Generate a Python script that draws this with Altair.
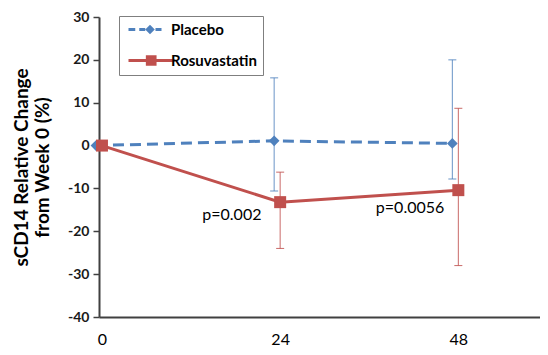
import altair as alt
import pandas as pd

# ---- data ----
weeks = [0, 24, 48]
placebo_mean = [0.0, 1.1, 0.5]
placebo_low = [None, -10.6, -7.8]
placebo_high = [None, 15.8, 20.0]
rosu_mean = [0.0, -13.2, -10.4]
rosu_low = [None, -24.0, -28.0]
rosu_high = [None, -6.2, 8.7]
series_names = ["Placebo", "Rosuvastatin"]
series_colors = ["#4F81BD", "#C0504D"]
p_labels = ["p=0.002", "p=0.0056"]
p_x = [17.5, 41.5]
p_y = [-16.2, -14.6]
x_ticks = [0, 24, 48]
y_ticks = [-40, -30, -20, -10, 0, 10, 20, 30]

FONT = "Lato"
AXIS_COLOR = "#404040"

xscale = alt.Scale(domain=[-0.4, 59], nice=False, zero=False)
yscale = alt.Scale(domain=[-40, 30], nice=False, zero=False)

xaxis = alt.Axis(values=x_ticks, title=None, labelFont=FONT, labelFontSize=16,
                 labelColor="#000000", ticks=False, labelPadding=14,
                 domainColor=AXIS_COLOR, domainWidth=2, grid=False)
yaxis = alt.Axis(values=y_ticks, title=["sCD14 Relative Change", "from Week 0 (%)"],
                 titleFont=FONT, titleFontSize=19, titleFontWeight="bold",
                 titleColor="#000000", titleLineHeight=21, titleX=-78, titleY=150,
                 titleAngle=270, titleBaseline="middle",
                 labelFont=FONT, labelFontSize=14, labelFontWeight="bold",
                 labelColor="#1a1a1a", labelPadding=4, tickSize=6,
                 labelExpr="'' + datum.value",
                 tickColor=AXIS_COLOR, tickWidth=1.5,
                 domainColor=AXIS_COLOR, domainWidth=2, grid=False)


def X(field):
    return alt.X(field, type="quantitative", scale=xscale, axis=xaxis)


def Y(field):
    return alt.Y(field, type="quantitative", scale=yscale, axis=yaxis)


series = [
    dict(name="Placebo", mean=placebo_mean, low=placebo_low, high=placebo_high,
         color=series_colors[0], shape="diamond", size=115, dash=[11, 6], off=-6),
    dict(name="Rosuvastatin", mean=rosu_mean, low=rosu_low, high=rosu_high,
         color=series_colors[1], shape="square", size=144, dash=None, off=0),
]

line_layers, err_layers, point_layers = [], [], []
for s in series:
    df = pd.DataFrame({"week": weeks, "mean": s["mean"], "low": s["low"],
                       "high": s["high"], "series": s["name"]})
    base = alt.Chart(df)
    lkw = dict(color=s["color"], strokeWidth=3, xOffset=s["off"])
    if s["dash"]:
        lkw["strokeDash"] = s["dash"]
    line_layers.append(base.mark_line(**lkw).encode(x=X("week"), y=Y("mean")))
    eb = base.transform_filter("isValid(datum.low)")
    err_layers.append(
        eb.mark_rule(color=s["color"], strokeWidth=1, opacity=0.85, xOffset=s["off"])
        .encode(x=X("week"), y=Y("low"), y2="high"))
    err_layers.append(
        eb.transform_fold(["low", "high"], as_=["bound", "val"])
        .mark_tick(orient="horizontal", size=8, thickness=1, color=s["color"],
                   opacity=0.85, xOffset=s["off"])
        .encode(x=X("week"), y=Y("val")))
    point_layers.append(
        base.mark_point(shape=s["shape"], filled=True, size=s["size"], opacity=1,
                        color=s["color"], xOffset=s["off"])
        .encode(x=X("week"), y=Y("mean")))

# p-value annotations
pdf = pd.DataFrame({"x": p_x, "y": p_y, "label": p_labels})
ptext = alt.Chart(pdf).mark_text(font=FONT, fontSize=16, color="#000000",
                                 baseline="middle", align="center").encode(
    x=X("x"), y=Y("y"), text="label:N")

# legend (Excel style: line with marker)
path_placebo = ("M-0.8,-0.3L0.55,-0.3L0.55,0.3L-0.8,0.3Z "
                "M1.35,-0.3L2.55,-0.3L2.55,0.3L1.35,0.3Z "
                "M4.6,-0.3L5.8,-0.3L5.8,0.3L4.6,0.3Z "
                "M3.5,-0.95L4.45,0L3.5,0.95L2.55,0Z")
path_rosu = ("M-0.8,-0.3L8.4,-0.3L8.4,0.3L-0.8,0.3Z "
             "M2.67,-1.07L4.81,-1.07L4.81,1.07L2.67,1.07Z")
legend = alt.Legend(title=None, orient="none", legendX=20, legendY=-1,
                    symbolSize=100, labelFont=FONT, labelFontSize=15,
                    labelFontWeight="bold", labelColor="#000000", labelOffset=31,
                    rowPadding=15, padding=6, strokeColor="#7f7f7f",
                    fillColor="white", symbolStrokeWidth=0, symbolOpacity=1)
ldf = pd.DataFrame({"series": series_names, "week": [0, 0], "mean": [0.0, 0.0]})
legend_layer = alt.Chart(ldf).transform_filter("false").mark_point(
    filled=True, opacity=1).encode(
    x=X("week"), y=Y("mean"),
    color=alt.Color("series:N", scale=alt.Scale(domain=series_names, range=series_colors),
                    legend=legend),
    shape=alt.Shape("series:N", scale=alt.Scale(domain=series_names,
                                                range=[path_placebo, path_rosu]),
                    legend=legend))

chart = alt.layer(
    line_layers[0], err_layers[0], err_layers[1], point_layers[0],
    line_layers[1], err_layers[2], err_layers[3], point_layers[1],
    ptext, legend_layer,
).properties(
    width=441, height=300,
    autosize=alt.AutoSizeParams(type="none"),
    padding={"left": 91, "top": 9, "right": 0, "bottom": 30},
    background="white",
).configure_view(strokeWidth=0)

chart.save("out.html", embed_options={"renderer": "svg", "actions": False})
